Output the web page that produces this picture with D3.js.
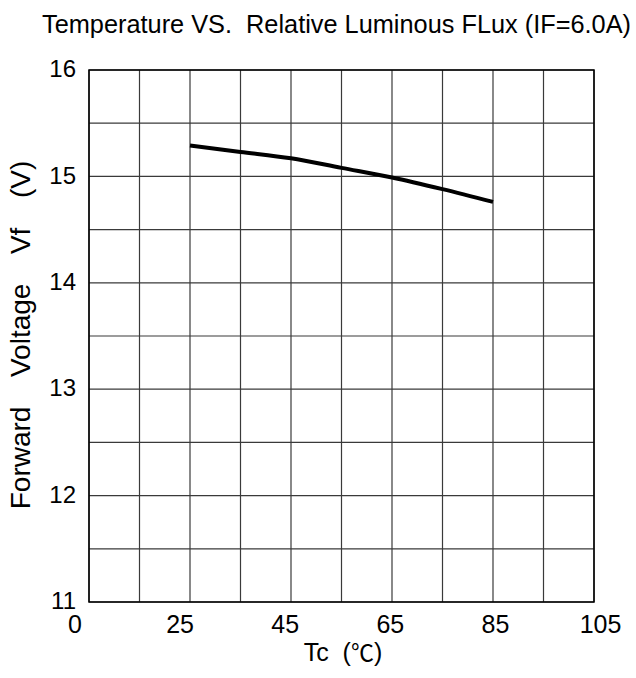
<!DOCTYPE html>
<html>
<head>
<meta charset="utf-8">
<script src="https://cdn.jsdelivr.net/npm/d3@7"></script>
<style>
  html, body { margin: 0; padding: 0; background: #fff; }
  svg { display: block; }
  text { font-family: "Liberation Sans", Arial, "Noto Sans CJK SC", sans-serif; fill: #000; }
</style>
</head>
<body>
<svg id="chart" width="636" height="678"></svg>
<script>
// ---- data ----
const temps = [25, 35, 45, 55, 65, 75, 85];
const voltages = [15.29, 15.23, 15.17, 15.08, 14.99, 14.88, 14.76];
const xTickValues = [5, 25, 45, 65, 85, 105];
const xTickLabels = ["0", "25", "45", "65", "85", "105"];
const xGridValues = [5, 15, 25, 35, 45, 55, 65, 75, 85, 95, 105];
const yTickValues = [11, 12, 13, 14, 15, 16];
const yGridValues = [11, 11.5, 12, 12.5, 13, 13.5, 14, 14.5, 15, 15.5, 16];
const titleText = "Temperature VS.  Relative Luminous FLux (IF=6.0A)";
const yTitle = "Forward  Voltage  Vf  (V)";

// ---- layout ----
const svg = d3.select("#chart");
const pLeft = 89, pRight = 594, pTop = 70, pBottom = 602;

const x = d3.scaleLinear().domain([5, 105]).range([pLeft, pRight]);
const xLabel = d3.scaleLinear().domain([5, 105]).range([75, 600.5]);
const y = d3.scaleLinear().domain([11, 16]).range([pBottom, pTop]);

// grid
svg.append("g").selectAll("line").data(xGridValues).join("line")
  .attr("x1", d => x(d)).attr("x2", d => x(d))
  .attr("y1", pTop).attr("y2", pBottom)
  .attr("stroke", "#3a3a3a").attr("stroke-width", 1.2);
svg.append("g").selectAll("line").data(yGridValues).join("line")
  .attr("x1", pLeft).attr("x2", pRight)
  .attr("y1", d => y(d)).attr("y2", d => y(d))
  .attr("stroke", "#3a3a3a").attr("stroke-width", 1.2);

// frame
svg.append("rect")
  .attr("x", pLeft).attr("y", pTop)
  .attr("width", pRight - pLeft).attr("height", pBottom - pTop)
  .attr("fill", "none").attr("stroke", "#000").attr("stroke-width", 1.5);

// y tick labels
svg.append("g").selectAll("text").data(yTickValues).join("text")
  .attr("x", 76).attr("y", d => y(d))
  .attr("dy", "0.3em")
  .attr("text-anchor", "end")
  .attr("font-size", 24)
  .text(d => d);

// x tick labels
svg.append("g").selectAll("text").data(xTickValues).join("text")
  .attr("x", d => xLabel(d)).attr("y", 633)
  .attr("text-anchor", "middle")
  .attr("font-size", 25)
  .text((d, i) => xTickLabels[i]);

// line
const line = d3.line()
  .x((d, i) => x(temps[i]))
  .y(d => y(d))
  .curve(d3.curveMonotoneX);
svg.append("path")
  .datum(voltages)
  .attr("d", line)
  .attr("fill", "none")
  .attr("stroke", "#000")
  .attr("stroke-width", 4);

// title
svg.append("text")
  .attr("x", 42).attr("y", 33)
  .attr("font-size", 25)
  .attr("textLength", 589)
  .attr("lengthAdjust", "spacingAndGlyphs")
  .style("white-space", "pre")
  .text(titleText);

// x axis title
const xt = svg.append("text")
  .attr("x", 343).attr("y", 661)
  .attr("text-anchor", "middle")
  .attr("font-size", 25)
  .style("white-space", "pre");
xt.append("tspan").text("Tc  (");
xt.append("tspan").style("font-family", "'Noto Sans CJK SC'").attr("font-size", 23).text("\u2103");
xt.append("tspan").text(")");

// y axis title
svg.append("text")
  .attr("transform", `translate(30, 335) rotate(-90)`)
  .attr("text-anchor", "middle")
  .attr("font-size", 28)
  .style("white-space", "pre")
  .style("word-spacing", "7px")
  .text(yTitle);
</script>
</body>
</html>
